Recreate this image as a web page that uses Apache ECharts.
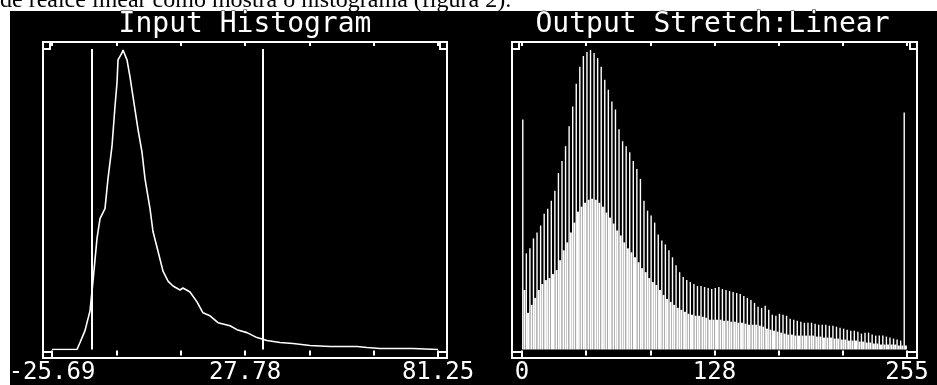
<!DOCTYPE html>
<html>
<head>
<meta charset="utf-8">
<script src="https://cdn.jsdelivr.net/npm/echarts@6/dist/echarts.min.js"></script>
<style>html,body{margin:0;padding:0;background:#fff;}#c{width:937px;height:385px;}</style>
</head>
<body>
<div id="c"></div>
<script>
// ---------- data ----------
const captionText = 'de realce linear como mostra o histograma (figura 2).';
const inputTitle = 'Input Histogram';
const outputTitle = 'Output Stretch:Linear';

// input histogram (data value, relative count)
const inputValue = [-25.69,-18.76,-17.93,-16.55,-15.16,-14.33,-13.22,-12.39,-11.01,-10.18,-9.07,-8.24,-7.68,-7.40,-6.30,-6.02,-4.91,-4.08,-3.25,-1.86,-0.76,0.08,1.46,2.29,3.68,5.06,6.45,7.83,9.77,10.60,12.54,14.48,16.14,18.08,20.30,23.62,25.56,28.33,31.10,33.87,37.48,41.08,45.79,51.33,58.81,61.58,65.18,74.33,80.97,81.25];
const inputCount = [0,0,7,19,39,69,112,132,142,172,205,245,269,292,299,302,292,275,255,222,199,172,142,119,99,79,69,64,60,62,58,48,37,34,27,24,20,17,12,9,7,6,4,3,3,2,1,1,0,0];
const stretchRange = [-14.61, 32.77];
const inputTickLabels = ['-25.69','','','27.78','','','81.25'];

// output histogram: tall and low spikes per output slot
const outputTall = [232,97,102,112,118,125,137,142,150,160,178,190,205,225,245,268,285,296,300,302,299,294,285,272,262,250,242,222,210,205,199,190,182,172,150,140,135,128,116,110,106,100,93,85,78,73,70,68,66,64,64,63,62,61,62,63,61,60,59,58,57,56,54,52,50,47,43,42,44,40,35,34,36,35,34,31,30,29,28,27,27,27,26,25,25,25,24,24,23,22,21,20,19,19,18,16,17,17,15,14,14,14,13,12,11,10,9,239];
const outputLow = [60,37,45,52,60,66,70,72,76,80,90,100,108,118,128,139,144,148,151,152,151,148,144,138,133,127,120,115,108,102,98,93,88,82,78,72,68,65,60,55,51,48,45,42,40,38,36,35,34,34,33,32,30,30,30,30,29,29,28,28,27,27,26,25,25,25,24,23,21,20,19,18,17,16,15,15,14,14,14,14,14,14,13,13,12,12,12,11,11,10,10,9,9,9,8,8,7,7,6,6,5,5,5,5,5,4,4,4];
const outputTickLabels = ['0','','','128','','','255'];

// ---------- layout ----------
const G1 = {left: 52, top: 49, width: 386, height: 303};
const G2 = {left: 522, top: 49, width: 385, height: 303};
const W = '#ffffff';
const monoFont = '"DejaVu Sans Mono", monospace';

function frame(g, padL, padR) {
  const x0 = g.left - padL, x1 = g.left + g.width + padR;
  const y0 = g.top - 7, y1 = g.top + g.height + 6;
  const st = {stroke: W, lineWidth: 2, fill: null};
  return [
    {type: 'rect', z: 100, silent: true, shape: {x: x0, y: y0, width: x1 - x0, height: y1 - y0}, style: st},
    {type: 'rect', z: 100, silent: true, shape: {x: x0, y: y0, width: 7, height: 7}, style: st},
    {type: 'rect', z: 100, silent: true, shape: {x: x1 - 7, y: y0, width: 7, height: 7}, style: st},
    {type: 'rect', z: 100, silent: true, shape: {x: x0, y: g.top + g.height, width: padL, height: 6}, style: st},
    {type: 'rect', z: 100, silent: true, shape: {x: x1 - padR, y: g.top + g.height, width: padR, height: 6}, style: st}
  ];
}

function tickAxis(gi, pos, offset, len, labels) {
  return {
    gridIndex: gi, type: 'value', min: 0, max: 6, interval: 1, position: pos, offset: offset,
    axisLine: {show: false},
    axisTick: {show: true, inside: true, length: len, lineStyle: {color: W, width: 2}},
    splitLine: {show: false},
    axisLabel: labels ? {
      show: true, margin: 5, color: W, fontSize: 24, fontFamily: monoFont,
      textBorderColor: '#000', textBorderWidth: 1,
      showMinLabel: true, showMaxLabel: true, hideOverlap: false,
      formatter: v => labels[Math.round(v)] || ''
    } : {show: false}
  };
}

const chart = echarts.init(document.getElementById('c'), null, {renderer: 'canvas'});
chart.setOption({
  animation: false,
  backgroundColor: '#ffffff',
  graphic: {elements: [
    {type: 'rect', z: -100, silent: true, shape: {x: 10, y: 11, width: 927, height: 374}, style: {fill: '#000'}},
    {type: 'text', z: 100, silent: true, x: 0, y: 1, style: {text: captionText, fill: '#000', font: '24px "Liberation Serif", serif', align: 'left', verticalAlign: 'middle'}},
    {type: 'text', z: 100, silent: true, x: G1.left + G1.width / 2, y: 25, style: {text: inputTitle, fill: W, stroke: '#000', lineWidth: 1.2, font: '28px ' + monoFont, align: 'center', verticalAlign: 'middle'}},
    {type: 'text', z: 100, silent: true, x: G2.left + G2.width / 2 - 2, y: 25, style: {text: outputTitle, fill: W, stroke: '#000', lineWidth: 1.2, font: '28px ' + monoFont, align: 'center', verticalAlign: 'middle'}}
  ].concat(frame(G1, 9, 9), frame(G2, 10, 10))},
  grid: [
    {left: G1.left, top: G1.top, width: G1.width, height: G1.height},
    {left: G2.left, top: G2.top, width: G2.width, height: G2.height}
  ],
  xAxis: [
    {gridIndex: 0, type: 'value', min: -25.69, max: 81.25, show: false},
    tickAxis(0, 'bottom', 6, 5, inputTickLabels),
    tickAxis(0, 'top', 7, 4, null),
    {gridIndex: 1, type: 'category', data: outputTall.map((_, i) => i), show: false, boundaryGap: true},
    tickAxis(1, 'bottom', 6, 5, outputTickLabels),
    tickAxis(1, 'top', 7, 4, null)
  ],
  yAxis: [
    {gridIndex: 0, type: 'value', min: 0, max: 303, show: false},
    {gridIndex: 1, type: 'value', min: 0, max: 303, show: false}
  ],
  series: [
    {
      type: 'line', xAxisIndex: 0, yAxisIndex: 0, symbol: 'none', silent: true,
      data: inputValue.map((v, i) => [v, inputCount[i]]),
      lineStyle: {color: W, width: 1.6},
      markLine: {
        silent: true, symbol: 'none', label: {show: false},
        lineStyle: {color: W, width: 2, type: 'solid'},
        data: stretchRange.map(v => ({xAxis: v}))
      }
    },
    {
      type: 'bar', xAxisIndex: 3, yAxisIndex: 1, silent: true, barWidth: 1.4, barGap: '0%',
      data: outputTall, itemStyle: {color: W}
    },
    {
      type: 'bar', xAxisIndex: 3, yAxisIndex: 1, silent: true, barWidth: 2.0, barGap: '0%',
      data: outputLow, itemStyle: {color: W}
    }
  ]
});
</script>
</body>
</html>
